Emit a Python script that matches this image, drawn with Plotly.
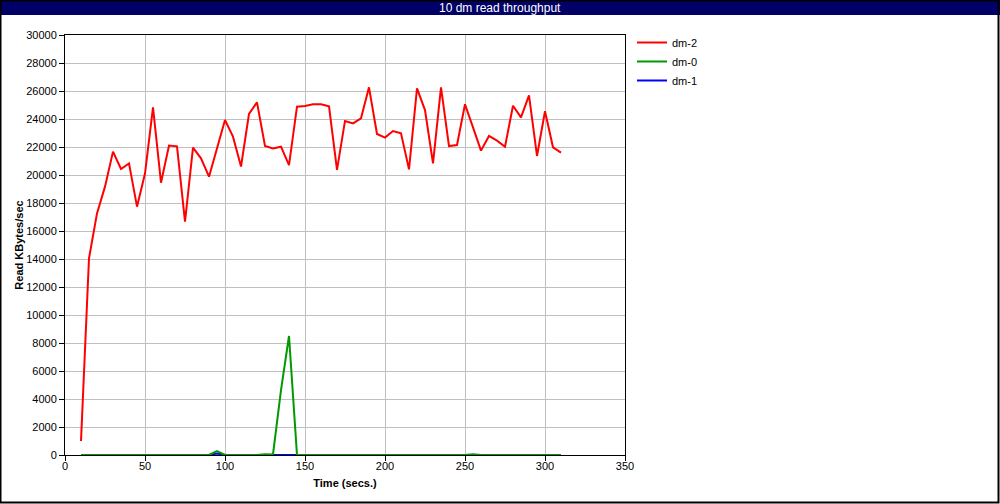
import plotly.graph_objects as go

time_secs = list(range(10, 315, 5))

dm2 = [1000, 14050, 17260, 19170, 21670, 20430, 20830, 17740, 20100, 24830,
       19450, 22100, 22050, 16670, 21950, 21190, 19880, 21900, 23930, 22740,
       20600, 24360, 25190, 22070, 21900, 22020, 20710, 24880, 24930, 25050,
       25050, 24900, 20360, 23860, 23690, 24050, 26260, 22930, 22670, 23140,
       22980, 20400, 26190, 24640, 20830, 26260, 22070, 22140, 25050, 23400,
       21740, 22790, 22450, 22020, 24950, 24120, 25690, 21360, 24550, 21980,
       21600]

dm0 = [0, 0, 0, 0, 0, 30, 0, 0, 0, 0,
       0, 0, 0, 0, 0, 0, 0, 280, 0, 0,
       0, 0, 0, 60, 40, 4640, 8500, 0, 0, 0,
       0, 0, 0, 0, 0, 0, 40, 0, 0, 0,
       0, 0, 0, 0, 0, 0, 0, 0, 0, 60,
       0, 0, 0, 0, 0, 0, 0, 0, 0, 0,
       0]

dm1 = [0, 0, 0, 0, 0, 0, 0, 0, 0, 0,
       0, 0, 0, 0, 0, 0, 0, 100, 0, 0,
       0, 0, 0, 0, 0, 0, 0, 0, 0, 0,
       0, 0, 0, 0, 0, 0, 0, 0, 0, 0,
       0, 0, 0, 0, 0, 0, 0, 0, 0, 0,
       0, 0, 0, 0, 0, 0, 0, 0, 0, 0,
       0]

x_ticks = [0, 50, 100, 150, 200, 250, 300, 350]
y_ticks = list(range(0, 30001, 2000))

W, H = 1000, 504
L, R, T, B = 65, 625, 35, 455
FONT = "Liberation Sans"


def px(x):
    return (x - L) / (R - L)


def py(y):
    return (B - y) / (B - T)


fig = go.Figure()
fig.add_trace(go.Scatter(x=time_secs, y=dm1, mode="lines", name="dm-1",
                         line=dict(color="#0000ff", width=2)))
fig.add_trace(go.Scatter(x=time_secs, y=dm0, mode="lines", name="dm-0",
                         line=dict(color="#009900", width=2)))
fig.add_trace(go.Scatter(x=time_secs, y=dm2, mode="lines", name="dm-2",
                         line=dict(color="#ff0000", width=2)))

axis_common = dict(showline=True, linecolor="black", linewidth=1, mirror=True,
                   showgrid=True, gridcolor="#c0c0c0", gridwidth=1,
                   ticks="outside", ticklen=5, tickcolor="black",
                   tickfont=dict(family=FONT, size=11, color="black"),
                   zeroline=False)

fig.update_layout(
    width=W, height=H,
    margin=dict(l=L, r=W - R, t=T, b=H - B, pad=0),
    paper_bgcolor="white", plot_bgcolor="white",
    font=dict(family=FONT, size=11, color="black"),
    xaxis=dict(range=[0, 350], tickvals=x_ticks, ticklabelstandoff=-4,
               title=dict(text="<b>Time (secs.)</b>", standoff=8,
                          font=dict(family=FONT, size=11)),
               **axis_common),
    yaxis=dict(range=[0, 30000], tickvals=y_ticks, tickformat="d",
               title=dict(text="<b>Read KBytes/sec</b>", standoff=0,
                          font=dict(family=FONT, size=11)),
               **axis_common),
    legend=dict(x=px(632), y=py(28), xanchor="left", yanchor="top",
                traceorder="reversed", itemwidth=30,
                font=dict(family=FONT, size=11, color="black"),
                bgcolor="rgba(0,0,0,0)", tracegroupgap=0),
    showlegend=True,
    shapes=[
        dict(type="rect", xref="paper", yref="paper",
             x0=px(0), x1=px(W), y0=py(0), y1=py(15),
             fillcolor="#000066", line=dict(width=0), layer="above"),
        dict(type="rect", xref="paper", yref="paper",
             x0=px(0.5), x1=px(W - 1.5), y0=py(0.5), y1=py(H - 1.5),
             fillcolor="rgba(0,0,0,0)", line=dict(color="black", width=2),
             layer="above"),
    ],
    annotations=[
        dict(text="10 dm read throughput", xref="paper", yref="paper",
             x=px(500), y=py(7.5), xanchor="center", yanchor="middle",
             showarrow=False, font=dict(family=FONT, size=12, color="white")),
    ],
)

fig.write_html("out.html",
               config={"displayModeBar": False},
               post_script="document.body.style.margin='0';"
                           "document.body.style.padding='0';")
